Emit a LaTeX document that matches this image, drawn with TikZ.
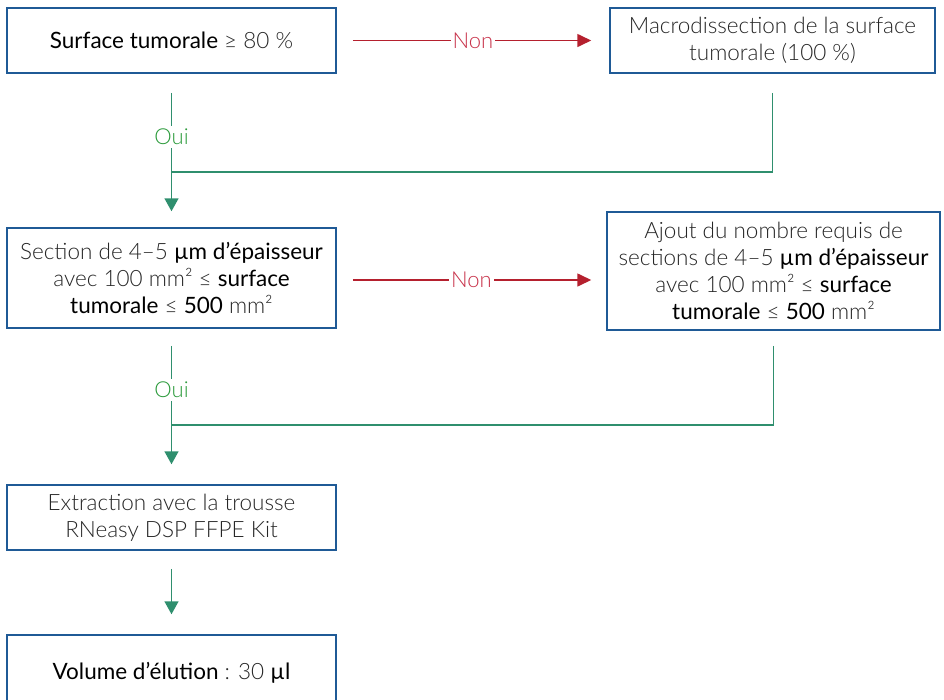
\documentclass[tikz,border=0pt]{standalone}
\usepackage{fontspec}
\setmainfont{Lato Light}[BoldFont={Lato}]
\usepackage{xcolor}
\usetikzlibrary{calc}
\usetikzlibrary{arrows.meta}

\definecolor{boxblue}{HTML}{1F5A96}
\definecolor{nored}{HTML}{B5202E}
\definecolor{nolabel}{HTML}{C8324A}
\definecolor{ouigreen}{HTML}{2F8F6E}
\definecolor{ouilabel}{HTML}{2A9A3A}
\definecolor{txtgray}{HTML}{262626}
\newcommand{\hl}[1]{{\bfseries\color{black}#1}}

\begin{document}
\begin{tikzpicture}[x=1pt,y=-1pt,
    stepbox/.style={draw=boxblue,line width=1.5pt,align=center,inner sep=0pt,
      text=txtgray,font=\fontsize{22.5}{27}\selectfont},
    nonarrow/.style={draw=nored,line width=1.6pt,-{Triangle[length=14pt,width=13pt]}},
    ouiline/.style={draw=ouigreen,line width=1.5pt},
    ouiarrow/.style={ouiline,-{Triangle[length=13pt,width=14pt]}},
    nonlabel/.style={fill=white,text=nolabel,inner sep=2pt,font=\fontsize{22}{24}\selectfont},
    ouilabel/.style={fill=white,text=ouilabel,inner sep=3pt,font=\fontsize{22}{24}\selectfont}]
  \clip (0,0) rectangle (944,699);
  \useasboundingbox (0,0) rectangle (944,699);

  \node[stepbox,minimum width=329pt,minimum height=65pt] (surf) at (171.5,40.5)
    {\hl{Surface tumorale} ≥ 80 \%};
  \node[stepbox,minimum width=325pt,minimum height=65pt] (macro) at (772.5,40.5)
    {Macrodissection de la surface\\tumorale (100 \%)};
  \node[stepbox,minimum width=329pt,minimum height=100pt] (sect) at (171.5,278)
    {Section de 4–5 \hl{µm d’épaisseur}\\avec 100 mm² ≤ \hl{surface}\\\hl{tumorale} ≤ \hl{500} mm²};
  \node[stepbox,minimum width=333pt,minimum height=118pt] (ajout) at (773.5,271)
    {Ajout du nombre requis de\\sections de 4–5 \hl{µm d’épaisseur}\\avec 100 mm² ≤ \hl{surface}\\\hl{tumorale} ≤ \hl{500} mm²};
  \node[stepbox,minimum width=329pt,minimum height=65pt] (extr) at (171.5,517.5)
    {Extraction avec la trousse\\RNeasy DSP FFPE Kit};
  \node[stepbox,minimum width=329pt,minimum height=96pt] (vol) at (171.5,683)
    {\raisebox{24pt}{\hl{Volume d’élution} : 30 \hl{µl}}};

  \coordinate (m1) at (172,172);
  \coordinate (m2) at (172,425);
  \coordinate (n2) at ($(sect.east)+(0,2)$);

  % Non
  \draw[nonarrow,shorten <=16pt,shorten >=18pt] %
    (surf.east) -- node[nonlabel]{Non}(macro.west);
  \draw[nonarrow,shorten <=16pt,shorten >=15pt] %
    (n2) -- node[nonlabel]{Non}(n2 -| ajout.west);

  % Oui
  \draw[ouiarrow,shorten <=19pt,shorten >=16pt] %
    (surf.south) -- node[pos=0.41,ouilabel]{Oui}(sect.north);
  \draw[ouiline,shorten <=19pt] (macro.south) |- (m1);
  \draw[ouiarrow,shorten <=17pt,shorten >=20pt] %
    (sect.south) -- node[pos=0.395,ouilabel]{Oui}(extr.north);
  \draw[ouiline,shorten <=15pt] (ajout.south) |- (m2);
  \draw[ouiarrow,shorten <=18pt,shorten >=20pt] (extr.south) -- (vol.north);

\end{tikzpicture}
\end{document}
